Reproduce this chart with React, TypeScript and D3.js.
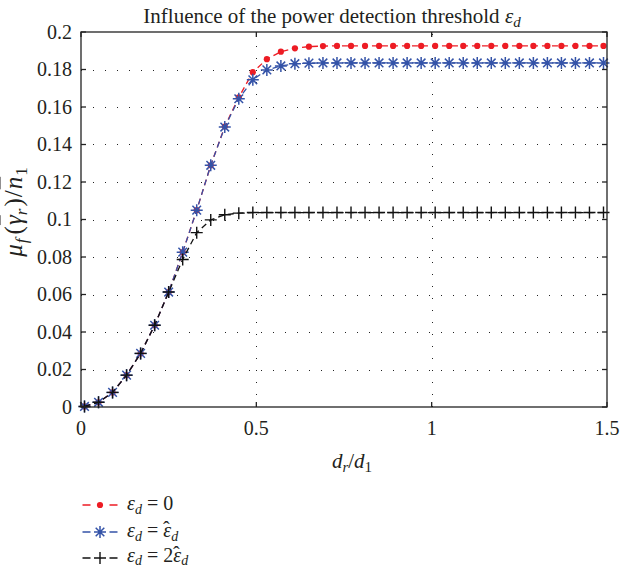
import React, { useEffect, useRef } from "react";
import * as d3 from "d3";

const xValues = [
  0.01, 0.05, 0.09, 0.13, 0.17, 0.21, 0.25, 0.29, 0.33, 0.37,
  0.41, 0.45, 0.49, 0.53, 0.57, 0.61, 0.65, 0.69, 0.73, 0.77,
  0.81, 0.85, 0.89, 0.93, 0.97, 1.01, 1.05, 1.09, 1.13, 1.17,
  1.21, 1.25, 1.29, 1.33, 1.37, 1.41, 1.45, 1.49,
];

const seriesZero = [
  0.0003, 0.0025, 0.0078, 0.017, 0.0286, 0.0436, 0.0613, 0.0826, 0.105, 0.1289,
  0.1496, 0.1652, 0.1786, 0.1855, 0.1895, 0.1913, 0.1922, 0.1925, 0.1926, 0.1926,
  0.1926, 0.1926, 0.1926, 0.1926, 0.1926, 0.1926, 0.1926, 0.1926, 0.1926, 0.1926,
  0.1926, 0.1926, 0.1926, 0.1926, 0.1926, 0.1926, 0.1926, 0.1926,
];

const seriesHat = [
  0.0003, 0.0025, 0.0078, 0.017, 0.0286, 0.0436, 0.0613, 0.0826, 0.105, 0.1289,
  0.1493, 0.1644, 0.1745, 0.1798, 0.1819, 0.1831, 0.1834, 0.1835, 0.1835, 0.1835,
  0.1835, 0.1835, 0.1835, 0.1835, 0.1835, 0.1835, 0.1835, 0.1835, 0.1835, 0.1835,
  0.1835, 0.1835, 0.1835, 0.1835, 0.1835, 0.1835, 0.1835, 0.1835,
];

const seriesTwoHat = [
  0.0003, 0.0025, 0.0078, 0.017, 0.0286, 0.0436, 0.0613, 0.0787, 0.093, 0.0998,
  0.1025, 0.1034, 0.1037, 0.1037, 0.1037, 0.1037, 0.1037, 0.1037, 0.1037, 0.1037,
  0.1037, 0.1037, 0.1037, 0.1037, 0.1037, 0.1037, 0.1037, 0.1037, 0.1037, 0.1037,
  0.1037, 0.1037, 0.1037, 0.1037, 0.1037, 0.1037, 0.1037, 0.1037,
];

const xTicks = [0, 0.5, 1, 1.5];
const xTickLabels = ["0", "0.5", "1", "1.5"];
const yTicks = [0, 0.02, 0.04, 0.06, 0.08, 0.1, 0.12, 0.14, 0.16, 0.18, 0.2];
const yTickLabels = ["0", "0.02", "0.04", "0.06", "0.08", "0.1", "0.12", "0.14", "0.16", "0.18", "0.2"];

const W = 623;
const H = 569;
const plot = { left: 81, right: 607, top: 32, bottom: 407 };
const FONT = "'Liberation Serif', 'Times New Roman', serif";
const TEXT = "#231f20";
const RED = "#ed1c24";
const BLUE = "#3453a8";
const BLACK = "#111";

function drawMarker(g: any, marker: string, color: string, cx: number, cy: number) {
  if (marker === "dot") {
    g.append("circle").attr("cx", cx).attr("cy", cy).attr("r", 3.1).attr("fill", color);
  } else if (marker === "star") {
    const a = 6;
    const b = 4.3;
    const p = `M${cx - a},${cy}L${cx + a},${cy}M${cx},${cy - a}L${cx},${cy + a}` +
      `M${cx - b},${cy - b}L${cx + b},${cy + b}M${cx - b},${cy + b}L${cx + b},${cy - b}`;
    g.append("path").attr("d", p).attr("stroke", color).attr("stroke-width", 1.5).attr("fill", "none");
  } else {
    const a = 6;
    const p = `M${cx - a},${cy}L${cx + a},${cy}M${cx},${cy - a}L${cx},${cy + a}`;
    g.append("path").attr("d", p).attr("stroke", color).attr("stroke-width", 1.4).attr("fill", "none");
  }
}

export default function App() {
  const gRef = useRef<SVGGElement | null>(null);
  const legRef = useRef<SVGGElement | null>(null);

  useEffect(() => {
    const root = d3.select(gRef.current);
    root.selectAll("*").remove();

    const x = d3.scaleLinear().domain([0, 1.5]).range([plot.left, plot.right]);
    const y = d3.scaleLinear().domain([0, 0.2]).range([plot.bottom, plot.top]);

    const grid = root.append("g");
    yTicks.filter((t) => t > 0 && t < 0.2).forEach((t) => {
      grid.append("line")
        .attr("x1", plot.left).attr("x2", plot.right)
        .attr("y1", Math.round(y(t)) + 0.5).attr("y2", Math.round(y(t)) + 0.5)
        .attr("stroke", "#222").attr("stroke-width", 1)
        .attr("stroke-dasharray", "1 11");
    });
    xTicks.filter((t) => t > 0 && t < 1.5).forEach((t) => {
      grid.append("line")
        .attr("x1", Math.round(x(t)) + 0.5).attr("x2", Math.round(x(t)) + 0.5)
        .attr("y1", plot.bottom).attr("y2", plot.top)
        .attr("stroke", "#222").attr("stroke-width", 1)
        .attr("stroke-dasharray", "1 11");
    });

    const series = [
      { values: seriesZero, color: RED, marker: "dot" },
      { values: seriesHat, color: BLUE, marker: "star" },
      { values: seriesTwoHat, color: BLACK, marker: "plus" },
    ];

    const line = d3.line<number>()
      .x((_, i) => x(xValues[i]))
      .y((d) => y(d));

    series.forEach((s) => {
      const g = root.append("g");
      g.append("path")
        .attr("d", line(s.values) as string)
        .attr("fill", "none")
        .attr("stroke", s.color)
        .attr("stroke-width", 1.3)
        .attr("stroke-dasharray", "6 4");
      s.values.forEach((v, i) => drawMarker(g, s.marker, s.color, x(xValues[i]), y(v)));
    });

    const axes = root.append("g");
    axes.append("rect")
      .attr("x", plot.left).attr("y", plot.top)
      .attr("width", plot.right - plot.left).attr("height", plot.bottom - plot.top)
      .attr("fill", "none").attr("stroke", "#222").attr("stroke-width", 1.3);
    const tl = 5;
    yTicks.forEach((t) => {
      const yy = y(t);
      axes.append("line").attr("x1", plot.left).attr("x2", plot.left + tl).attr("y1", yy).attr("y2", yy)
        .attr("stroke", "#222").attr("stroke-width", 1.3);
      axes.append("line").attr("x1", plot.right).attr("x2", plot.right - tl).attr("y1", yy).attr("y2", yy)
        .attr("stroke", "#222").attr("stroke-width", 1.3);
    });
    xTicks.forEach((t) => {
      const xx = x(t);
      axes.append("line").attr("x1", xx).attr("x2", xx).attr("y1", plot.bottom).attr("y2", plot.bottom - tl)
        .attr("stroke", "#222").attr("stroke-width", 1.3);
      axes.append("line").attr("x1", xx).attr("x2", xx).attr("y1", plot.top).attr("y2", plot.top + tl)
        .attr("stroke", "#222").attr("stroke-width", 1.3);
    });

    yTicks.forEach((t, i) => {
      axes.append("text")
        .attr("x", plot.left - 9).attr("y", y(t) + 6.5)
        .attr("text-anchor", "end")
        .attr("font-family", FONT).attr("font-size", 20).attr("fill", TEXT)
        .text(yTickLabels[i]);
    });
    xTicks.forEach((t, i) => {
      axes.append("text")
        .attr("x", x(t)).attr("y", plot.bottom + 28)
        .attr("text-anchor", "middle")
        .attr("font-family", FONT).attr("font-size", 20).attr("fill", TEXT)
        .text(xTickLabels[i]);
    });

    const leg = d3.select(legRef.current);
    leg.selectAll("*").remove();
    const rows = [
      { color: RED, marker: "dot", y: 505 },
      { color: BLUE, marker: "star", y: 532 },
      { color: BLACK, marker: "plus", y: 558 },
    ];
    rows.forEach((r) => {
      const g = leg.append("g");
      g.append("line").attr("x1", 82.5).attr("x2", 117.5).attr("y1", r.y).attr("y2", r.y)
        .attr("stroke", r.color).attr("stroke-width", 1.3).attr("stroke-dasharray", "8 19");
      drawMarker(g, r.marker, r.color, 100, r.y);
    });
  }, []);

  const it = { fontStyle: "italic" } as const;
  const over = { textDecoration: "overline" } as const;

  return (
    <svg width={W} height={H} style={{ position: "absolute", left: 0, top: 0, background: "#fff" }}>
      <g ref={gRef} />
      <g ref={legRef} />
      <g fontFamily={FONT} fill={TEXT}>
        <text x={332} y={23} fontSize={21} textAnchor="middle">
          Influence of the power detection threshold <tspan style={it}>ε</tspan>
          <tspan style={it} fontSize={15} dy={4}>d</tspan>
        </text>
        <text x={352} y={468} fontSize={21} textAnchor="middle">
          <tspan style={it}>d</tspan>
          <tspan style={it} fontSize={15} dy={4}>r</tspan>
          <tspan dy={-4}>/</tspan>
          <tspan style={it}>d</tspan>
          <tspan fontSize={15} dy={4}>1</tspan>
        </text>
        <text transform="translate(22,212) rotate(-90)" fontSize={25} textAnchor="middle">
          <tspan style={it}>μ</tspan>
          <tspan style={it} fontSize={17} dy={5} dx={1}>f</tspan>
          <tspan dy={-5} dx={4}>(</tspan>
          <tspan style={{ ...it, ...over }} dx={1}>γ</tspan>
          <tspan style={it} fontSize={17} dy={5}>r</tspan>
          <tspan dy={-5} dx={2}>)</tspan>
          <tspan dx={1}>/</tspan>
          <tspan style={{ ...it, ...over }} dx={1}>n</tspan>
          <tspan fontSize={17} dy={5} dx={1}>1</tspan>
        </text>
        <text x={127} y={510} fontSize={20}>
          <tspan style={it}>ε</tspan>
          <tspan style={it} fontSize={14} dy={4}>d</tspan>
          <tspan dy={-4}> = 0</tspan>
        </text>
        <text x={127} y={537} fontSize={20}>
          <tspan style={it}>ε</tspan>
          <tspan style={it} fontSize={14} dy={4}>d</tspan>
          <tspan dy={-4}> = </tspan>
          <tspan style={it}>ε</tspan>
          <tspan dx={-8} dy={-1}>ˆ</tspan>
          <tspan style={it} fontSize={14} dx={1.5} dy={5}>d</tspan>
        </text>
        <text x={127} y={562} fontSize={20}>
          <tspan style={it}>ε</tspan>
          <tspan style={it} fontSize={14} dy={3}>d</tspan>
          <tspan dy={-3}> = 2</tspan>
          <tspan style={it}>ε</tspan>
          <tspan dx={-8} dy={-1}>ˆ</tspan>
          <tspan style={it} fontSize={14} dx={1.5} dy={4}>d</tspan>
        </text>
      </g>
    </svg>
  );
}
